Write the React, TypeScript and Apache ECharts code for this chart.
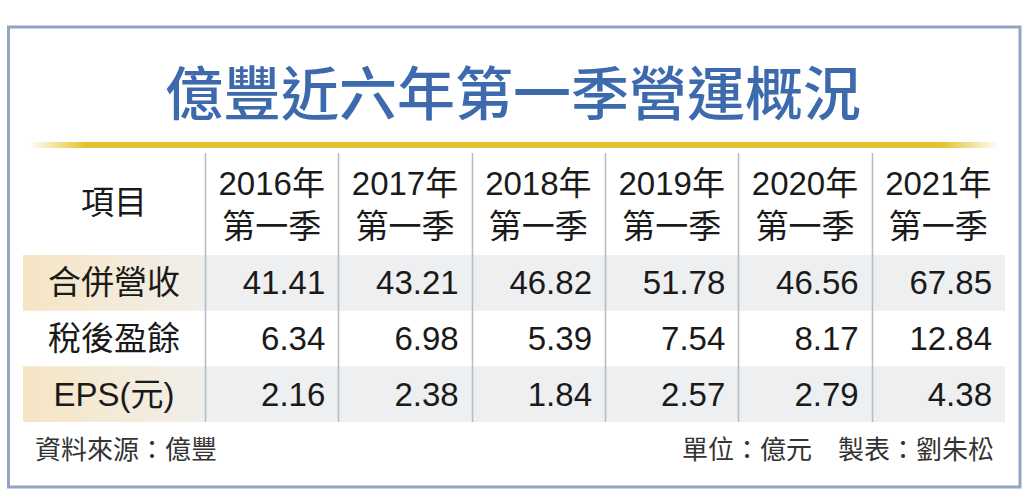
import React, { useEffect, useRef } from "react";
import * as echarts from "echarts";

// ---- data ----
const TITLE = "億豐近六年第一季營運概況";
const headerLabel = "項目";
const years = ["2016", "2017", "2018", "2019", "2020", "2021"];
const quarterLabel = "第一季";
const metrics = ["合併營收", "稅後盈餘", "EPS(元)"];
const revenue = [41.41, 43.21, 46.82, 51.78, 46.56, 67.85];
const netIncome = [6.34, 6.98, 5.39, 7.54, 8.17, 12.84];
const eps = [2.16, 2.38, 1.84, 2.57, 2.79, 4.38];
const sourceNote = "資料來源：億豐";
const unitNote = "單位：億元　製表：劉朱松";

const FONT = "'Liberation Sans', Arial, 'Noto Sans CJK TC', sans-serif";
const CJK = "'Noto Sans CJK TC', sans-serif";
const TEXT = "#1a1a1a";

export default function App() {
  const ref = useRef<HTMLDivElement>(null);

  useEffect(() => {
    document.body.style.margin = "0";
    if (!ref.current) return;
    const chart = echarts.init(ref.current, null, { renderer: "svg" });

    const rows = [revenue, netIncome, eps];
    const cellData: any[] = [];
    rows.forEach((vals, r) => vals.forEach((v, c) => cellData.push([c, r, v])));

    const option: any = {
      animation: false,
      backgroundColor: "#ffffff",
      grid: [
        { left: 23, top: 255, width: 182, height: 167 },
        { left: 205, top: 255, width: 800, height: 167 },
      ],
      xAxis: [
        {
          gridIndex: 0,
          type: "category",
          data: [headerLabel],
          position: "top",
          axisLine: { show: false },
          axisTick: { show: false },
          splitLine: { show: false },
          axisLabel: {
            fontSize: 33,
            lineHeight: 33,
            fontFamily: FONT,
            color: TEXT,
            margin: 36,
          },
        },
        {
          gridIndex: 1,
          type: "category",
          data: years,
          position: "top",
          axisLine: { show: false },
          axisTick: { show: false },
          splitLine: { show: false },
          axisLabel: {
            fontSize: 33,
            lineHeight: 43,
            fontFamily: FONT,
            color: TEXT,
            margin: 7,
            interval: 0,
            formatter: (v: string) => `${v}年\n${quarterLabel}`,
          },
        },
      ],
      yAxis: [
        { gridIndex: 0, type: "category", data: metrics, inverse: true, show: false },
        { gridIndex: 1, type: "category", data: metrics, inverse: true, show: false },
      ],
      series: [
        {
          type: "custom",
          xAxisIndex: 0,
          yAxisIndex: 0,
          z: 2,
          encode: { x: 0, y: 1 },
          data: metrics.map((_, i) => [0, i]),
          renderItem: (params: any, api: any) => {
            const r = api.value(1);
            const c = api.coord([0, r]);
            const s = api.size([1, 1]);
            const children: any[] = [];
            if (r % 2 === 0) {
              children.push({
                type: "rect",
                shape: { x: c[0] - s[0] / 2, y: c[1] - s[1] / 2, width: s[0], height: s[1] },
                style: {
                  fill: new echarts.graphic.LinearGradient(0, 0, 1, 0, [
                    { offset: 0, color: "#f6e5c4" },
                    { offset: 1, color: "#f1efeb" },
                  ]),
                },
              });
            }
            children.push({
              type: "text",
              z2: 5,
              style: {
                text: metrics[r],
                x: c[0],
                y: c[1],
                textAlign: "center",
                textVerticalAlign: "middle",
                align: "center",
                verticalAlign: "middle",
                fontSize: 33,
                fontFamily: FONT,
                fill: TEXT,
              },
            });
            return { type: "group", children };
          },
        },
        {
          type: "custom",
          xAxisIndex: 1,
          yAxisIndex: 1,
          z: 2,
          encode: { x: 0, y: 1 },
          data: cellData,
          renderItem: (params: any, api: any) => {
            const col = api.value(0);
            const r = api.value(1);
            const v = api.value(2);
            const c = api.coord([col, r]);
            const s = api.size([1, 1]);
            const children: any[] = [];
            if (r % 2 === 0) {
              children.push({
                type: "rect",
                shape: { x: c[0] - s[0] / 2, y: c[1] - s[1] / 2, width: s[0], height: s[1] },
                style: { fill: "#eeeff0" },
              });
            }
            children.push({
              type: "text",
              z2: 5,
              style: {
                text: Number(v).toFixed(2),
                x: c[0] + s[0] / 2 - 13,
                y: c[1],
                textAlign: "right",
                textVerticalAlign: "middle",
                align: "right",
                verticalAlign: "middle",
                fontSize: 33,
                fontFamily: FONT,
                fill: TEXT,
              },
            });
            return { type: "group", children };
          },
        },
        {
          type: "custom",
          xAxisIndex: 1,
          yAxisIndex: 1,
          z: 4,
          encode: { x: 0, y: 1 },
          data: years.map((_, i) => [i, 0]),
          renderItem: (params: any, api: any) => {
            const col = api.value(0);
            const c = api.coord([col, 0]);
            const s = api.size([1, 1]);
            const cs = params.coordSys;
            const x = Math.round(c[0] - s[0] / 2) + 0.5;
            return {
              type: "line",
              shape: { x1: x, y1: cs.y - 102, x2: x, y2: cs.y + cs.height },
              style: { stroke: "#b7bdc5", lineWidth: 1.6 },
            };
          },
        },
      ],
      graphic: [
        {
          type: "rect",
          z: 10,
          shape: { x: 8.5, y: 27, width: 1011.5, height: 460 },
          style: { fill: "none", stroke: "#93a5c2", lineWidth: 3 },
        },
        {
          type: "rect",
          z: 1,
          shape: { x: 28, y: 142, width: 972, height: 6 },
          style: {
            fill: new echarts.graphic.LinearGradient(0, 0, 1, 0, [
              { offset: 0, color: "rgba(229,195,45,0)" },
              { offset: 0.06, color: "#e4c22e" },
              { offset: 0.94, color: "#e4c22e" },
              { offset: 1, color: "rgba(229,195,45,0)" },
            ]),
          },
        },
        {
          type: "text",
          z: 5,
          x: 513,
          y: 90,
          style: {
            text: TITLE,
            textAlign: "center",
            textVerticalAlign: "middle",
            align: "center",
            verticalAlign: "middle",
            fontSize: 58,
            fontWeight: 500,
            fontFamily: CJK,
            fill: "#3c6aad",
          },
        },
        {
          type: "text",
          z: 5,
          x: 35,
          y: 447,
          style: {
            text: sourceNote,
            textAlign: "left",
            textVerticalAlign: "middle",
            align: "left",
            verticalAlign: "middle",
            fontSize: 26,
            fontFamily: CJK,
            fill: "#333333",
          },
        },
        {
          type: "text",
          z: 5,
          x: 994,
          y: 447,
          style: {
            text: unitNote,
            textAlign: "right",
            textVerticalAlign: "middle",
            align: "right",
            verticalAlign: "middle",
            fontSize: 26,
            fontFamily: CJK,
            fill: "#333333",
          },
        },
      ],
    };

    chart.setOption(option);
    return () => chart.dispose();
  }, []);

  return <div ref={ref} style={{ width: 1024, height: 501, background: "#fff" }} />;
}
